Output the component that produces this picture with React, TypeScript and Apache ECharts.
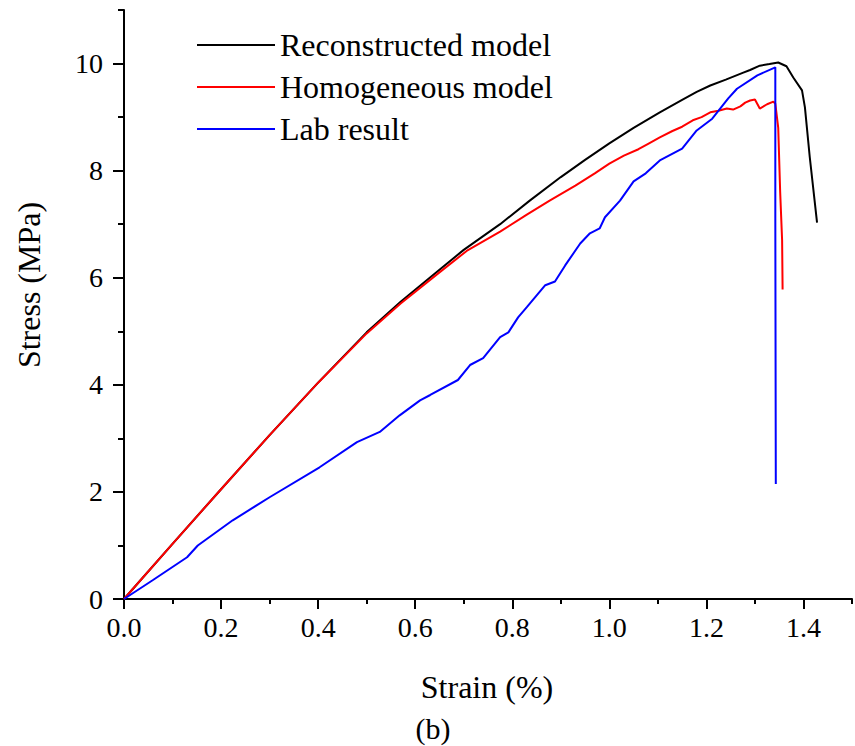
import React, { useEffect, useRef } from "react";
import * as echarts from "echarts";

const reconstructed: [number, number][] = [
  [0, 0], [0.1, 1.03], [0.2, 2.05], [0.3, 3.06], [0.4, 4.04], [0.5, 4.98],
  [0.57, 5.55], [0.65, 6.15], [0.7, 6.52], [0.775, 7.0], [0.836, 7.44],
  [0.9, 7.88], [0.95, 8.2], [1.0, 8.51], [1.05, 8.8], [1.104, 9.09],
  [1.15, 9.32], [1.18, 9.47], [1.208, 9.59], [1.24, 9.7], [1.276, 9.83],
  [1.29, 9.88], [1.31, 9.96], [1.33, 9.99], [1.348, 10.02], [1.365, 9.95],
  [1.379, 9.74], [1.397, 9.5], [1.403, 9.18], [1.413, 8.25], [1.428, 7.03],
];

const homogeneous: [number, number][] = [
  [0, 0], [0.1, 1.03], [0.2, 2.05], [0.3, 3.06], [0.4, 4.04], [0.5, 4.96],
  [0.57, 5.52], [0.65, 6.1], [0.706, 6.5], [0.775, 6.86], [0.83, 7.18],
  [0.877, 7.44], [0.93, 7.72], [0.97, 7.95], [1.0, 8.13], [1.03, 8.28],
  [1.06, 8.4], [1.08, 8.5], [1.104, 8.62], [1.13, 8.74], [1.15, 8.82],
  [1.172, 8.94], [1.19, 9.0], [1.208, 9.09], [1.225, 9.12], [1.242, 9.16],
  [1.255, 9.14], [1.27, 9.2], [1.28, 9.27], [1.29, 9.31], [1.3, 9.33],
  [1.31, 9.16], [1.325, 9.24], [1.338, 9.29], [1.342, 9.25], [1.348, 8.8],
  [1.352, 7.6], [1.356, 6.7], [1.357, 5.78],
];

const labResult: [number, number][] = [
  [0, 0], [0.059, 0.35], [0.13, 0.78], [0.152, 1.0], [0.224, 1.47],
  [0.3, 1.9], [0.403, 2.46], [0.48, 2.93], [0.527, 3.12], [0.568, 3.43],
  [0.61, 3.71], [0.631, 3.81], [0.688, 4.09], [0.713, 4.37], [0.74, 4.5],
  [0.775, 4.89], [0.792, 4.98], [0.812, 5.26], [0.83, 5.45], [0.868, 5.86],
  [0.888, 5.93], [0.909, 6.23], [0.94, 6.64], [0.96, 6.83], [0.98, 6.92],
  [0.991, 7.13], [1.022, 7.44], [1.05, 7.8], [1.075, 7.95], [1.104, 8.19],
  [1.15, 8.41], [1.18, 8.75], [1.212, 8.97], [1.245, 9.35], [1.263, 9.53],
  [1.305, 9.78], [1.342, 9.93], [1.342, 7.1], [1.343, 2.15],
];

const xMajorTicks = [0, 0.2, 0.4, 0.6, 0.8, 1.0, 1.2, 1.4];
const yMajorTicks = [0, 2, 4, 6, 8, 10];

const FONT = "'Liberation Serif', 'Times New Roman', serif";

export default function App() {
  const ref = useRef<HTMLDivElement>(null);
  useEffect(() => {
    if (!ref.current) return;
    const chart = echarts.init(ref.current, undefined, { renderer: "svg" });
    const axisLine = { show: true, lineStyle: { color: "#000", width: 2 } };
    chart.setOption({
      animation: false,
      backgroundColor: "#fff",
      grid: { left: 124, top: 10, right: 3, bottom: 147, containLabel: false },
      legend: {
        orient: "vertical",
        left: 192,
        top: 24,
        icon: "rect",
        itemWidth: 78,
        itemHeight: 2,
        itemGap: 10,
        textStyle: { fontFamily: FONT, fontSize: 32, color: "#000" },
        data: ["Reconstructed model", "Homogeneous model", "Lab result"],
      },
      xAxis: [
        {
          type: "value",
          min: 0,
          max: 1.5,
          interval: 0.1,
          position: "bottom",
          axisLine,
          axisTick: { show: true, length: 5, lineStyle: { color: "#000", width: 2 } },
          axisLabel: { show: false },
          splitLine: { show: false },
        },
        {
          type: "value",
          min: 0,
          max: 1.5,
          interval: 0.1,
          position: "bottom",
          axisLine: { show: false },
          axisTick: {
            show: true,
            length: 10,
            customValues: xMajorTicks,
            lineStyle: { color: "#000", width: 2 },
          },
          axisLabel: {
            customValues: xMajorTicks,
            margin: 14,
            fontFamily: FONT,
            fontSize: 28,
            color: "#000",
            formatter: (v: number) => v.toFixed(1),
          },
          splitLine: { show: false },
        },
      ],
      yAxis: [
        {
          type: "value",
          min: 0,
          max: 11,
          interval: 1,
          position: "left",
          axisLine,
          axisTick: { show: true, length: 6, lineStyle: { color: "#000", width: 2 } },
          axisLabel: { show: false },
          splitLine: { show: false },
        },
        {
          type: "value",
          min: 0,
          max: 11,
          interval: 1,
          position: "left",
          axisLine: { show: false },
          axisTick: {
            show: true,
            length: 11,
            customValues: yMajorTicks,
            lineStyle: { color: "#000", width: 2 },
          },
          axisLabel: {
            customValues: yMajorTicks,
            margin: 21,
            fontFamily: FONT,
            fontSize: 28,
            color: "#000",
          },
          splitLine: { show: false },
        },
      ],
      graphic: [
        {
          type: "text",
          x: 29,
          y: 285,
          rotation: Math.PI / 2,
          style: {
            text: "Stress (MPa)",
            font: `32px ${FONT}`,
            fill: "#000",
            textAlign: "center",
            textVerticalAlign: "middle",
          },
        },
        {
          type: "text",
          x: 487,
          y: 687,
          style: {
            text: "Strain (%)",
            font: `32px ${FONT}`,
            fill: "#000",
            textAlign: "center",
            textVerticalAlign: "middle",
          },
        },
        {
          type: "text",
          x: 433,
          y: 728,
          style: {
            text: "(b)",
            font: `30px ${FONT}`,
            fill: "#000",
            textAlign: "center",
            textVerticalAlign: "middle",
          },
        },
      ],
      series: [
        {
          name: "Reconstructed model",
          type: "line",
          xAxisIndex: 0,
          yAxisIndex: 0,
          data: reconstructed,
          symbol: "none",
          lineStyle: { color: "#000000", width: 2 },
          itemStyle: { color: "#000000" },
        },
        {
          name: "Homogeneous model",
          type: "line",
          xAxisIndex: 0,
          yAxisIndex: 0,
          data: homogeneous,
          symbol: "none",
          lineStyle: { color: "#ff0000", width: 2 },
          itemStyle: { color: "#ff0000" },
        },
        {
          name: "Lab result",
          type: "line",
          xAxisIndex: 0,
          yAxisIndex: 0,
          data: labResult,
          symbol: "none",
          lineStyle: { color: "#0000ff", width: 2 },
          itemStyle: { color: "#0000ff" },
        },
      ],
    });
    return () => chart.dispose();
  }, []);
  return <div ref={ref} style={{ width: 855, height: 746, position: "absolute", left: 0, top: 0 }} />;
}
